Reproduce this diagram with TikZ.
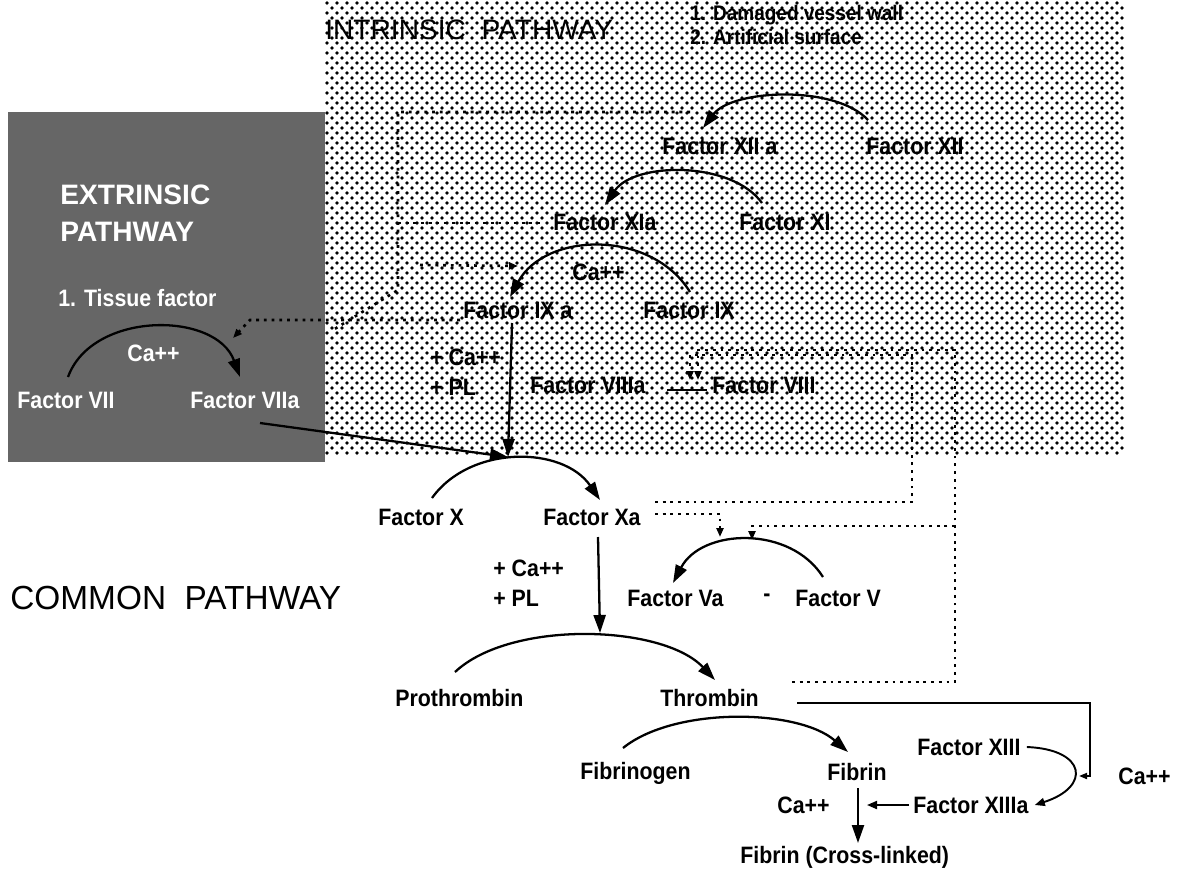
\documentclass[tikz,border=0pt]{standalone}
\usepackage{fontspec}
\setmainfont{Liberation Sans}
\newfontfamily\lblfont{Liberation Sans}[FakeStretch=0.9]
\usetikzlibrary{calc,arrows.meta}

\tikzset{
  lbl/.style={font=\lblfont\bfseries\fontsize{13.5}{17}\selectfont, inner sep=0pt, anchor=west},
  ttl/.style={font=\fontsize{16}{20}\selectfont, inner sep=0pt, anchor=west},
  arr/.style={line width=1.3pt, -{Triangle[length=3.6mm,width=2.4mm]}},
  fb/.style={line width=1.5pt, dash pattern=on 1.6pt off 2.8pt},
  fbarr/.style={fb, -{Triangle[length=1.8mm,width=1.4mm]}},
}

\begin{document}
\begin{tikzpicture}[x=0.02cm,y=-0.02cm] % 凝固カスケード
\useasboundingbox (0,0) rectangle (1180,869);
\foreach \r in {0,...,90}{%
	\pgfmathtruncatemacro\off{5*mod(\r,2)}%
	\foreach \c in {0,...,79}{%
		\fill ({327+10*\c+\off},{3+5*\r}) circle [radius=1.95];
	}%
}%
\fill[black!60] (8,112) rectangle (325,462);
\node[ttl] (ttlin) at (325,30) {INTRINSIC\ \ PATHWAY};
\node[lbl,align=left,font=\lblfont\bfseries\fontsize{12}{14}\selectfont] (src) at (690,25) {1. Damaged vessel wall\\2. Artificial surface};
\node[ttl,font=\fontsize{19}{23}\selectfont] (ttlcom) at (10,598) {COMMON\ \ PATHWAY};
\node[ttl,white,align=left,font=\bfseries\fontsize{16}{21}\selectfont] (ttlex) at (60,213) {EXTRINSIC\\PATHWAY};
\foreach \nm/\x/\y/\txt in%
{%
	tf/58/298/1. Tissue factor,
	ca7/127/353/Ca++,
	f7/17/400/Factor VII,
	f7a/190/400/Factor VIIa%
}{%
	\node[lbl,white] (\nm) at (\x,\y) {\txt};
}%
\foreach \nm/\x/\y/\txt in%
{%
	f12a/662/146/Factor XII a, f12/866/146/Factor XII,
	f11a/553/222/Factor XIa, f11/739/222/Factor XI,
	ca9/572/272/Ca++,
	f9a/463/310/Factor IX a, f9/643/310/Factor IX,
	f8a/530/385/Factor VIIIa, f8/712/385/Factor VIII,
	f10/378/517/Factor X, f10a/543/517/Factor Xa,
	f5a/627/598/Factor Va, dsh/763/598/-, f5/795/598/Factor V,
	proth/395/698/Prothrombin, thr/660/698/Thrombin,
	fbg/580/773/Fibrinogen, fib/827/772/Fibrin,
	f13/917/747/Factor XIII, ca13/1118/776/Ca++,
	ca/777/805/Ca++, f13a/913/805/Factor XIIIa,
	fibx/740/857/Fibrin (Cross-linked)%
}{%
	\node[lbl] (\nm) at (\x,\y) {\txt};
}%
\node[lbl,align=left] (cpl9) at (430,372) {+ Ca++\\+ PL};
\node[lbl,align=left] (cpl10) at (493,583) {+ Ca++\\+ PL};
\coordinate (xtop) at (508,457);
\coordinate (ptop) at (600,633);
\coordinate (xlink) at (867,805);
% 反応の弧
\draw[arr] ([shift={(2,-26)}]f12.west) to[bend right=50,looseness=0.75] ([shift={(41,-18)}]f12a.west);
\draw[arr] ([shift={(23,-19)}]f11.west) to[bend right=55,looseness=0.85] ([shift={(52,-17)}]f11a.west);
\draw[arr] ([shift={(47,-18)}]f9.west) to[bend right=60,looseness=1.05] ([shift={(47,-13)}]f9a.west);
\draw[arr] ([shift={(51,-23)}]f7.west) to[bend left=70,looseness=1.05] ([shift={(50,-23)}]f7a.west);
\draw[arr] ([shift={(54,-19)}]f10.west) to[bend left=55] ([shift={(57,-17)}]f10a.west);
\draw[arr] ([shift={(28,-21)}]f5.west) to[bend right=60,looseness=1.05] ([shift={(46,-15)}]f5a.west);
\draw[arr] ([shift={(60,-26)}]proth.west) to[bend left=45,looseness=0.75] ([shift={(55,-18)}]thr.west);
\draw[arr] ([shift={(43,-25)}]fbg.west) to[bend left=40,looseness=0.75] ([shift={(21,-20)}]fib.west);
\draw[line width=1.1pt,-{Triangle[length=2mm,width=1.6mm]}] ([shift={(6,0)}]f13.east) to[bend left=80,looseness=2.6] ([shift={(6,0)}]f13a.east);
\draw[arr] ([shift={(49,13)}]f9a.west) -- (xtop);
\draw[arr] ([shift={(70,23)}]f7a.west) -- (xtop);
\draw[arr] ([shift={(55,20)}]f10a.west) -- (ptop);
\draw[arr] ([shift={(31,16)}]fib.west) -- ([shift={(118,-14)}]fibx.west);
\draw[line width=1.1pt,-{Triangle[length=2mm,width=1.6mm]}] ([shift={(-4,0)}]f13a.west) -- (xlink);
\draw[line width=1pt] ([shift={(-45,5)}]f8.west) -- ([shift={(-5,5)}]f8.west);
\draw[line width=1pt,-{Triangle[length=1.6mm,width=1.2mm]}] ([shift={(137,5)}]thr.west) -- (1090,703) -- (1090,776) -- (1079,776);
% 点線のフィードバック
\draw[fb] ([shift={(28,-34)}]f12a.west) -- (398,112) -- (398,290) -- (333,330);
\draw[fb] (398,223) -- ([shift={(-13,1)}]f11a.west);
\draw[fbarr] (420,265) -- ([shift={(55,-44)}]f9a.west);
\draw[fbarr] ([shift={(-3,10)}]f9a.west) -- (250,320) -- (233,338);
\draw[fbarr] ([shift={(112,-15)}]f10a.west) -- (912,502) -- (912,355) -- (690,355) -- (690,380);
\draw[fbarr] ([shift={(112,-3)}]f10a.west) -- (720,514) -- (720,537);
\draw[fbarr] ([shift={(132,-16)}]thr.west) -- (955,682) -- (955,350) -- (698,350) -- (698,380);
\draw[fbarr] (955,526) -- (752,526) -- (752,540);
\end{tikzpicture}
\end{document}
